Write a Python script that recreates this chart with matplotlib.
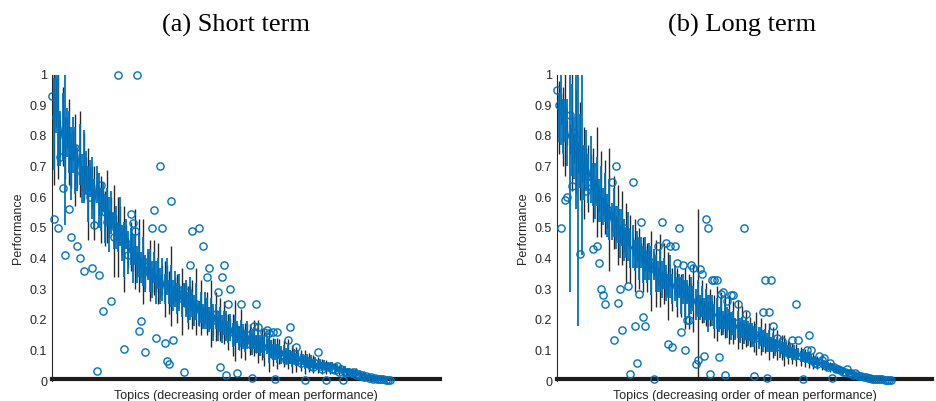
import matplotlib.pyplot as plt
import numpy as np

# (a) short term: per-topic mean, blue spread, black spread, single run (circles)
short_mean = [
    0.93, 0.84, 0.91, 0.88, 0.79, 0.83, 0.76, 0.81, 0.78, 0.71,
    0.77, 0.72, 0.69, 0.74, 0.66, 0.70, 0.68, 0.61, 0.66, 0.63,
    0.58, 0.64, 0.59, 0.56, 0.60, 0.53, 0.57, 0.51, 0.55, 0.49,
    0.50, 0.47, 0.52, 0.45, 0.43, 0.48, 0.42, 0.44, 0.40, 0.43,
    0.38, 0.41, 0.37, 0.39, 0.35, 0.38, 0.36, 0.33, 0.37, 0.32,
    0.35, 0.31, 0.33, 0.30, 0.34, 0.29, 0.31, 0.28, 0.30, 0.27,
    0.29, 0.26, 0.28, 0.27, 0.24, 0.27, 0.25, 0.23, 0.26, 0.22,
    0.24, 0.21, 0.23, 0.22, 0.20, 0.22, 0.19, 0.21, 0.18, 0.20,
    0.17, 0.19, 0.18, 0.16, 0.175, 0.15, 0.165, 0.16, 0.14, 0.155,
    0.145, 0.13, 0.15, 0.135, 0.125, 0.14, 0.12, 0.13, 0.115, 0.12,
    0.11, 0.118, 0.10, 0.105, 0.095, 0.102, 0.09, 0.096, 0.085, 0.09,
    0.082, 0.088, 0.078, 0.072, 0.08, 0.07, 0.075, 0.066, 0.071, 0.062,
    0.067, 0.06, 0.064, 0.055, 0.059, 0.052, 0.056, 0.048, 0.053, 0.046,
    0.049, 0.042, 0.046, 0.04, 0.043, 0.036, 0.04, 0.034, 0.037, 0.031,
    0.033, 0.029, 0.027, 0.03, 0.024, 0.025, 0.02, 0.022, 0.017, 0.018,
    0.013, 0.014, 0.01, 0.009, 0.008, 0.007, 0.006, 0.005, 0.005, 0.004,
]
short_blue_err = [
    0.12, 0.15, 0.10, 0.18, 0.09, 0.11, 0.25, 0.08, 0.10, 0.12,
    0.09, 0.11, 0.07, 0.10, 0.08, 0.12, 0.07, 0.09, 0.06, 0.10,
    0.08, 0.06, 0.09, 0.07, 0.05, 0.08, 0.06, 0.09, 0.07, 0.06,
    0.07, 0.05, 0.08, 0.06, 0.09, 0.05, 0.07, 0.06, 0.08, 0.05,
    0.06, 0.07, 0.05, 0.08, 0.06, 0.05, 0.07, 0.06, 0.05, 0.07,
    0.05, 0.06, 0.07, 0.05, 0.06, 0.04, 0.07, 0.05, 0.06, 0.05,
    0.06, 0.05, 0.04, 0.06, 0.05, 0.07, 0.04, 0.05, 0.06, 0.04,
    0.05, 0.04, 0.06, 0.05, 0.04, 0.05, 0.06, 0.04, 0.05, 0.04,
    0.045, 0.04, 0.05, 0.035, 0.045, 0.04, 0.05, 0.035, 0.04, 0.045,
    0.04, 0.035, 0.045, 0.03, 0.04, 0.035, 0.03, 0.04, 0.035, 0.03,
    0.035, 0.03, 0.04, 0.03, 0.025, 0.035, 0.03, 0.025, 0.03, 0.028,
    0.025, 0.03, 0.022, 0.027, 0.024, 0.02, 0.025, 0.022, 0.018, 0.022,
    0.02, 0.018, 0.022, 0.016, 0.019, 0.015, 0.017, 0.014, 0.016, 0.013,
    0.014, 0.012, 0.015, 0.011, 0.013, 0.01, 0.012, 0.009, 0.011, 0.008,
    0.009, 0.008, 0.007, 0.008, 0.006, 0.007, 0.005, 0.006, 0.004, 0.005,
    0.004, 0.004, 0.003, 0.003, 0.003, 0.002, 0.002, 0.002, 0.002, 0.002,
]
short_black_err = [
    0.10, 0.20, 0.08, 0.22, 0.06, 0.13, 0.10, 0.05, 0.14, 0.08,
    0.05, 0.15, 0.06, 0.14, 0.04, 0.11, 0.05, 0.15, 0.04, 0.07,
    0.12, 0.04, 0.05, 0.11, 0.03, 0.09, 0.12, 0.04, 0.05, 0.15,
    0.04, 0.13, 0.05, 0.04, 0.14, 0.03, 0.05, 0.08, 0.04, 0.13,
    0.04, 0.12, 0.03, 0.14, 0.05, 0.04, 0.10, 0.04, 0.09, 0.03,
    0.10, 0.04, 0.05, 0.09, 0.04, 0.07, 0.13, 0.03, 0.04, 0.08,
    0.03, 0.11, 0.04, 0.05, 0.07, 0.04, 0.08, 0.03, 0.11, 0.04,
    0.09, 0.03, 0.04, 0.07, 0.03, 0.11, 0.04, 0.08, 0.03, 0.07,
    0.03, 0.07, 0.04, 0.06, 0.03, 0.07, 0.10, 0.03, 0.04, 0.08,
    0.03, 0.06, 0.04, 0.05, 0.03, 0.06, 0.03, 0.07, 0.03, 0.05,
    0.06, 0.02, 0.07, 0.03, 0.045, 0.02, 0.05, 0.04, 0.02, 0.045,
    0.02, 0.05, 0.02, 0.045, 0.02, 0.04, 0.02, 0.035, 0.015, 0.04,
    0.015, 0.03, 0.015, 0.03, 0.012, 0.025, 0.012, 0.025, 0.01, 0.022,
    0.01, 0.02, 0.01, 0.018, 0.008, 0.016, 0.008, 0.015, 0.007, 0.013,
    0.006, 0.012, 0.005, 0.013, 0.005, 0.01, 0.004, 0.009, 0.004, 0.007,
    0.003, 0.006, 0.003, 0.004, 0.002, 0.003, 0.002, 0.003, 0.002, 0.002,
]
short_circle = [
    0.93, 0.53, 0.86, 0.50, 0.73, 0.63, 0.41, 0.80, 0.56, 0.47,
    0.76, 0.76, 0.44, 0.40, 0.68, 0.36, 0.66, 0.62, 0.60, 0.37,
    0.51, 0.033, 0.345, 0.64, 0.23, 0.55, 0.52, 0.54, 0.26, 0.47,
    0.50, 1.00, 0.49, 0.46, 0.105, 0.45, 0.41, 0.545, 0.515, 0.49,
    1.00, 0.163, 0.195, 0.39, 0.095, 0.36, 0.35, 0.50, 0.557, 0.14,
    0.33, 0.70, 0.50, 0.125, 0.065, 0.055, 0.587, 0.133, 0.29, 0.30,
    0.27, 0.28, 0.03, 0.26, 0.29, 0.38, 0.49, 0.24, 0.25, 0.50,
    0.23, 0.44, 0.22, 0.34, 0.37, 0.21, 0.20, 0.22, 0.29, 0.045,
    0.34, 0.38, 0.02, 0.25, 0.30, 0.16, 0.17, 0.027, 0.15, 0.25,
    0.14, 0.13, 0.15, 0.12, 0.01, 0.18, 0.25, 0.176, 0.12, 0.11,
    0.16, 0.165, 0.155, 0.10, 0.16, 0.005, 0.16, 0.09, 0.085, 0.08,
    0.07, 0.135, 0.175, 0.075, 0.07, 0.11, 0.068, 0.06, 0.07, 0.003,
    0.06, 0.055, 0.05, 0.045, 0.06, 0.095, 0.05, 0.04, 0.05, 0.003,
    0.045, 0.05, 0.04, 0.035, 0.05, 0.03, 0.04, 0.003, 0.03, 0.028,
    0.03, 0.025, 0.03, 0.02, 0.022, 0.015, 0.02, 0.012, 0.015, 0.01,
    0.012, 0.008, 0.009, 0.006, 0.007, 0.005, 0.006, 0.004, 0.004, 0.003,
]

# (b) long term
long_mean = [
    0.91, 0.86, 0.89, 0.83, 0.85, 0.81, 0.79, 0.82, 0.76, 0.78,
    0.73, 0.75, 0.71, 0.68, 0.72, 0.66, 0.69, 0.64, 0.62, 0.65,
    0.59, 0.61, 0.57, 0.60, 0.54, 0.56, 0.52, 0.55, 0.50, 0.51,
    0.48, 0.50, 0.46, 0.45, 0.47, 0.43, 0.44, 0.41, 0.43, 0.40,
    0.42, 0.38, 0.40, 0.37, 0.39, 0.36, 0.38, 0.35, 0.34, 0.36,
    0.33, 0.35, 0.32, 0.31, 0.34, 0.30, 0.32, 0.29, 0.31, 0.28,
    0.30, 0.27, 0.29, 0.26, 0.28, 0.27, 0.25, 0.27, 0.24, 0.26,
    0.23, 0.25, 0.22, 0.24, 0.23, 0.21, 0.22, 0.20, 0.22, 0.19,
    0.21, 0.19, 0.20, 0.18, 0.19, 0.17, 0.185, 0.165, 0.175, 0.16,
    0.17, 0.155, 0.16, 0.15, 0.145, 0.155, 0.14, 0.145, 0.13, 0.14,
    0.125, 0.13, 0.12, 0.125, 0.11, 0.118, 0.105, 0.11, 0.10, 0.104,
    0.095, 0.10, 0.09, 0.093, 0.085, 0.088, 0.08, 0.083, 0.075, 0.078,
    0.07, 0.072, 0.065, 0.066, 0.06, 0.062, 0.055, 0.056, 0.05, 0.051,
    0.046, 0.047, 0.042, 0.04, 0.041, 0.036, 0.035, 0.032, 0.03, 0.029,
    0.026, 0.025, 0.022, 0.021, 0.018, 0.017, 0.015, 0.013, 0.012, 0.01,
    0.009, 0.008, 0.007, 0.006, 0.006, 0.005, 0.004, 0.004, 0.003, 0.003,
]
long_blue_err = [
    0.10, 0.08, 0.12, 0.09, 0.07, 0.11, 0.50, 0.15, 0.10, 0.22,
    0.55, 0.12, 0.30, 0.09, 0.10, 0.08, 0.11, 0.07, 0.09, 0.08,
    0.07, 0.09, 0.06, 0.08, 0.07, 0.10, 0.06, 0.08, 0.07, 0.06,
    0.08, 0.06, 0.07, 0.05, 0.08, 0.06, 0.07, 0.05, 0.06, 0.07,
    0.05, 0.06, 0.07, 0.05, 0.06, 0.08, 0.05, 0.06, 0.05, 0.07,
    0.06, 0.05, 0.06, 0.04, 0.07, 0.05, 0.06, 0.05, 0.04, 0.06,
    0.05, 0.06, 0.04, 0.05, 0.06, 0.04, 0.05, 0.06, 0.04, 0.05,
    0.04, 0.05, 0.06, 0.04, 0.05, 0.04, 0.05, 0.04, 0.05, 0.04,
    0.04, 0.05, 0.035, 0.045, 0.04, 0.035, 0.045, 0.04, 0.035, 0.04,
    0.035, 0.04, 0.03, 0.04, 0.035, 0.03, 0.035, 0.03, 0.035, 0.03,
    0.03, 0.035, 0.025, 0.03, 0.028, 0.025, 0.03, 0.022, 0.026, 0.024,
    0.022, 0.025, 0.02, 0.023, 0.019, 0.021, 0.018, 0.02, 0.016, 0.018,
    0.016, 0.017, 0.014, 0.015, 0.013, 0.014, 0.012, 0.013, 0.011, 0.012,
    0.01, 0.011, 0.009, 0.01, 0.008, 0.009, 0.008, 0.007, 0.007, 0.006,
    0.006, 0.006, 0.005, 0.005, 0.005, 0.004, 0.004, 0.004, 0.003, 0.003,
    0.003, 0.003, 0.002, 0.002, 0.002, 0.002, 0.002, 0.002, 0.001, 0.001,
]
long_black_err = [
    0.06, 0.12, 0.05, 0.13, 0.18, 0.04, 0.05, 0.20, 0.05, 0.17,
    0.05, 0.16, 0.06, 0.15, 0.04, 0.11, 0.05, 0.12, 0.04, 0.18,
    0.04, 0.14, 0.03, 0.12, 0.04, 0.20, 0.03, 0.12, 0.04, 0.13,
    0.03, 0.12, 0.04, 0.13, 0.03, 0.11, 0.03, 0.12, 0.04, 0.10,
    0.03, 0.09, 0.04, 0.08, 0.03, 0.13, 0.04, 0.11, 0.03, 0.12,
    0.03, 0.10, 0.04, 0.11, 0.03, 0.07, 0.04, 0.08, 0.03, 0.07,
    0.03, 0.10, 0.03, 0.09, 0.04, 0.11, 0.03, 0.29, 0.03, 0.07,
    0.03, 0.07, 0.04, 0.06, 0.03, 0.07, 0.09, 0.03, 0.07, 0.03,
    0.07, 0.03, 0.08, 0.03, 0.07, 0.03, 0.08, 0.03, 0.07, 0.03,
    0.06, 0.03, 0.05, 0.03, 0.05, 0.07, 0.02, 0.06, 0.02, 0.05,
    0.02, 0.06, 0.02, 0.05, 0.02, 0.05, 0.02, 0.04, 0.05, 0.02,
    0.04, 0.02, 0.035, 0.015, 0.035, 0.015, 0.03, 0.015, 0.03, 0.012,
    0.028, 0.012, 0.025, 0.01, 0.022, 0.01, 0.02, 0.01, 0.018, 0.008,
    0.016, 0.008, 0.014, 0.007, 0.012, 0.006, 0.011, 0.005, 0.01, 0.005,
    0.008, 0.004, 0.007, 0.004, 0.006, 0.003, 0.005, 0.003, 0.004, 0.003,
    0.004, 0.002, 0.003, 0.002, 0.002, 0.002, 0.002, 0.001, 0.002, 0.001,
]
long_circle = [
    0.95, 0.90, 0.50, 0.885, 0.59, 0.60, 0.867, 0.635, 0.81, 0.79,
    0.74, 0.415, 0.70, 0.70, 0.62, 0.67, 0.65, 0.43, 0.63, 0.44,
    0.385, 0.30, 0.28, 0.25, 0.56, 0.54, 0.65, 0.135, 0.70, 0.255,
    0.30, 0.165, 0.50, 0.49, 0.31, 0.024, 0.65, 0.18, 0.06, 0.285,
    0.52, 0.21, 0.18, 0.415, 0.39, 0.37, 0.005, 0.36, 0.44, 0.34,
    0.52, 0.34, 0.45, 0.12, 0.44, 0.11, 0.44, 0.385, 0.50, 0.16,
    0.38, 0.10, 0.20, 0.20, 0.38, 0.37, 0.055, 0.07, 0.365, 0.35,
    0.08, 0.53, 0.50, 0.022, 0.33, 0.33, 0.33, 0.078, 0.285, 0.29,
    0.02, 0.26, 0.21, 0.28, 0.28, 0.19, 0.25, 0.18, 0.17, 0.50,
    0.22, 0.16, 0.15, 0.16, 0.015, 0.15, 0.14, 0.15, 0.225, 0.33,
    0.01, 0.225, 0.33, 0.18, 0.12, 0.14, 0.11, 0.13, 0.10, 0.10,
    0.09, 0.095, 0.135, 0.09, 0.25, 0.135, 0.08, 0.005, 0.08, 0.10,
    0.15, 0.10, 0.065, 0.06, 0.055, 0.08, 0.07, 0.075, 0.05, 0.045,
    0.06, 0.01, 0.045, 0.04, 0.04, 0.035, 0.03, 0.03, 0.04, 0.025,
    0.025, 0.02, 0.025, 0.018, 0.016, 0.015, 0.013, 0.012, 0.01, 0.009,
    0.008, 0.007, 0.007, 0.006, 0.005, 0.005, 0.004, 0.004, 0.003, 0.003,
]

y_ticks = [0, 0.1, 0.2, 0.3, 0.4, 0.5, 0.6, 0.7, 0.8, 0.9, 1]
y_labels = ["0", "0.1", "0.2", "0.3", "0.4", "0.5", "0.6", "0.7", "0.8", "0.9", "1"]

blue = "#0072BD"
dark = "#262626"

plt.rcParams["font.family"] = ["Liberation Sans", "DejaVu Sans"]

fig = plt.figure(figsize=(9.36, 4.01), dpi=100)


def draw_panel(ax, mean, blue_err, black_err, circle, xmax):
    x = np.arange(len(mean))
    mean = np.array(mean)
    black_err = np.array(black_err)
    ax.vlines(x, mean - black_err, mean + black_err, color="#2a2a2a", lw=1.0, zorder=1)
    ax.errorbar(x, mean, yerr=blue_err, color=blue, lw=1.3, elinewidth=1.3,
                capsize=0, zorder=2)
    ax.axhline(0.007, color="#1c1c1c", lw=3.0, zorder=2.5, clip_on=False)
    ax.plot(x, circle, "o", mfc="none", mec=blue, ms=5.2, mew=1.0, zorder=3,
            clip_on=False)

    ax.set_xlim(0, xmax)
    ax.set_ylim(0, 1)
    ax.set_yticks(y_ticks)
    ax.set_yticklabels(y_labels)
    ax.set_xticks([])
    for side in ["top", "right", "bottom"]:
        ax.spines[side].set_visible(False)
    ax.spines["left"].set_color(dark)
    ax.spines["left"].set_linewidth(0.8)
    ax.tick_params(axis="y", direction="in", length=0, labelsize=9,
                   labelcolor=dark, pad=3.5)
    ax.set_ylabel("Performance", fontsize=9, color=dark, labelpad=4)
    ax.set_xlabel("Topics (decreasing order of mean performance)", fontsize=9,
                  color=dark, labelpad=6.5)


ax1 = fig.add_axes([52 / 936, 20 / 401, 388 / 936, 306.5 / 401])
draw_panel(ax1, short_mean, short_blue_err, short_black_err, short_circle, 182.6)

ax2 = fig.add_axes([557 / 936, 20 / 401, 375 / 936, 306.5 / 401])
draw_panel(ax2, long_mean, long_blue_err, long_black_err, long_circle, 178.6)

fig.text(236 / 936, 1 - 25 / 401, "(a) Short term", ha="center", va="center",
         fontsize=19, family="Liberation Serif")
fig.text(742 / 936, 1 - 25 / 401, "(b) Long term", ha="center", va="center",
         fontsize=19, family="Liberation Serif")

plt.savefig("out.png", dpi=100)
